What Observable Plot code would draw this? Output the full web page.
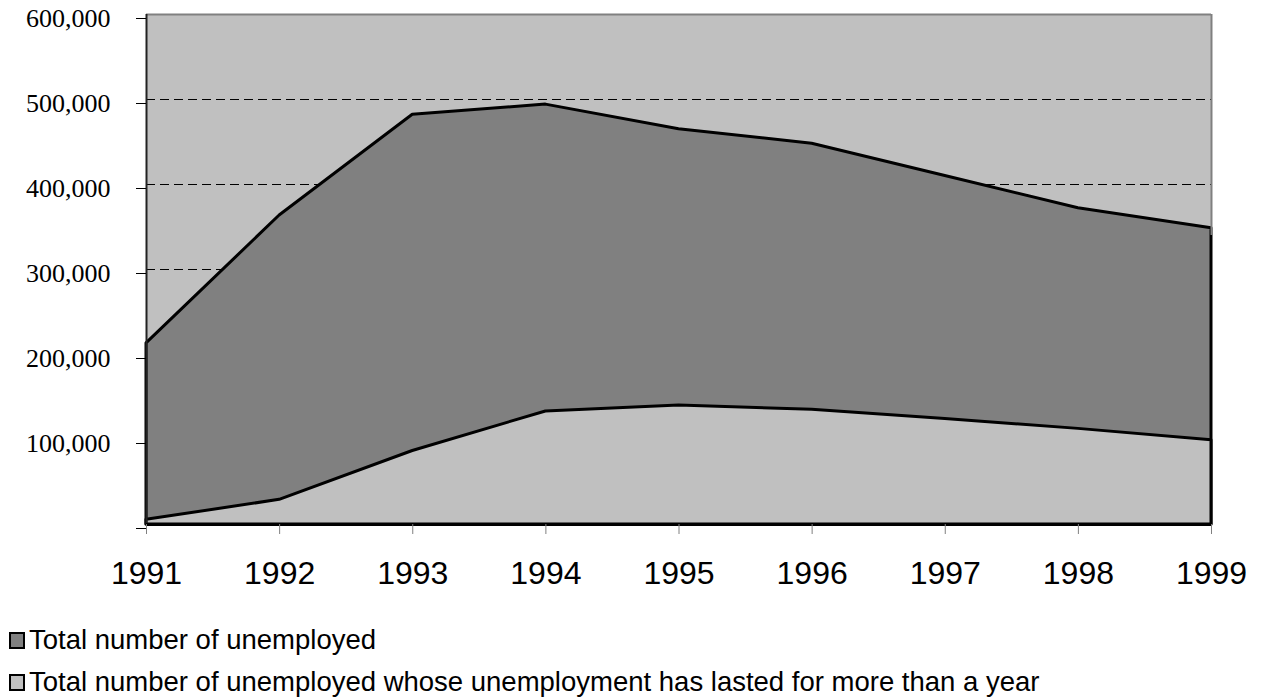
<!DOCTYPE html>
<html>
<head>
<meta charset="utf-8">
<script src="https://cdn.jsdelivr.net/npm/d3@7"></script>
<script src="https://cdn.jsdelivr.net/npm/@observablehq/plot@0.6"></script>
<style>
  html, body { margin: 0; padding: 0; background: #fff; }
  #chart svg { display: block; }
  .legend { font-family: "Liberation Sans", Arial, sans-serif; font-size: 27.5px; color: #000; padding-top: 9px; }
  .legend .item { height: 42px; line-height: 42px; display: flex; align-items: center; white-space: nowrap; }
  .legend .sw { width: 12px; height: 13px; border: 2px solid #000; margin-left: 9px; margin-right: 4px; flex: none; }
</style>
</head>
<body>
<div id="chart"></div>
<script>
const years = [1991, 1992, 1993, 1994, 1995, 1996, 1997, 1998, 1999];
const totalUnemployed = [213000, 363500, 482000, 494000, 465000, 448000, 410000, 372000, 348500];
const longTermUnemployed = [5500, 29000, 86500, 133000, 140000, 135000, 124000, 112500, 99000];
const yTicks = [0, 100000, 200000, 300000, 400000, 500000, 600000];
const gridValues = [100000, 200000, 300000, 400000, 500000];
const seriesNames = ["Total number of unemployed", "Total number of unemployed whose unemployment has lasted for more than a year"];
const seriesColors = ["#808080", "#c0c0c0"];

const data = years.map((y, i) => ({year: y, total: totalUnemployed[i], longTerm: longTermUnemployed[i]}));
const fmt = d3.format(",");

const plot = Plot.plot({
  width: 1261,
  height: 610,
  marginLeft: 146,
  marginRight: 50,
  marginTop: 14,
  marginBottom: 86,
  x: {domain: [1991, 1999]},
  y: {domain: [0, 600000]},
  style: {background: "#fff", overflow: "visible"},
  marks: [
    Plot.frame({fill: "#c0c0c0", stroke: null}),
    Plot.ruleY(gridValues, {stroke: "#000", strokeWidth: 1, strokeDasharray: "9,5"}),
    Plot.areaY(data, {x: "year", y: "total", fill: seriesColors[0], stroke: "#000", strokeWidth: 3}),
    Plot.areaY(data, {x: "year", y: "longTerm", fill: seriesColors[1], stroke: "#000", strokeWidth: 3}),
    Plot.ruleY([600000], {stroke: "#808080", strokeWidth: 2}),
    Plot.ruleX([1999], {stroke: "#808080", strokeWidth: 2, y1: 600000, y2: 340000}),
    Plot.ruleX([1991], {stroke: "#222", strokeWidth: 2}),
    Plot.ruleY([0], {stroke: "#000", strokeWidth: 3}),
    Plot.axisY({
      ticks: yTicks, tickSize: 10, tickPadding: 26, stroke: "#000",
      tickFormat: d => d === 0 ? "" : fmt(d),
      fontSize: 26, fontFamily: "'Liberation Serif', 'Times New Roman', serif",
      dy: 4, label: null
    }),
    Plot.axisX({
      ticks: years, tickSize: 10, tickPadding: 27, stroke: "#808080",
      tickFormat: "d",
      fontSize: 32, fontFamily: "'Liberation Sans', Arial, sans-serif",
      label: null
    })
  ]
});
document.getElementById("chart").appendChild(plot);
plot.querySelectorAll('g[aria-label="x-axis tick label"] text, g[aria-label="y-axis tick label"] text').forEach(t => t.setAttribute("fill", "#000"));

const legend = document.createElement("div");
legend.className = "legend";
seriesNames.forEach((name, i) => {
  const item = document.createElement("div");
  item.className = "item";
  const sw = document.createElement("span");
  sw.className = "sw";
  sw.style.background = seriesColors[i];
  const label = document.createElement("span");
  label.textContent = name;
  item.appendChild(sw);
  item.appendChild(label);
  legend.appendChild(item);
});
document.getElementById("chart").appendChild(legend);
</script>
</body>
</html>
